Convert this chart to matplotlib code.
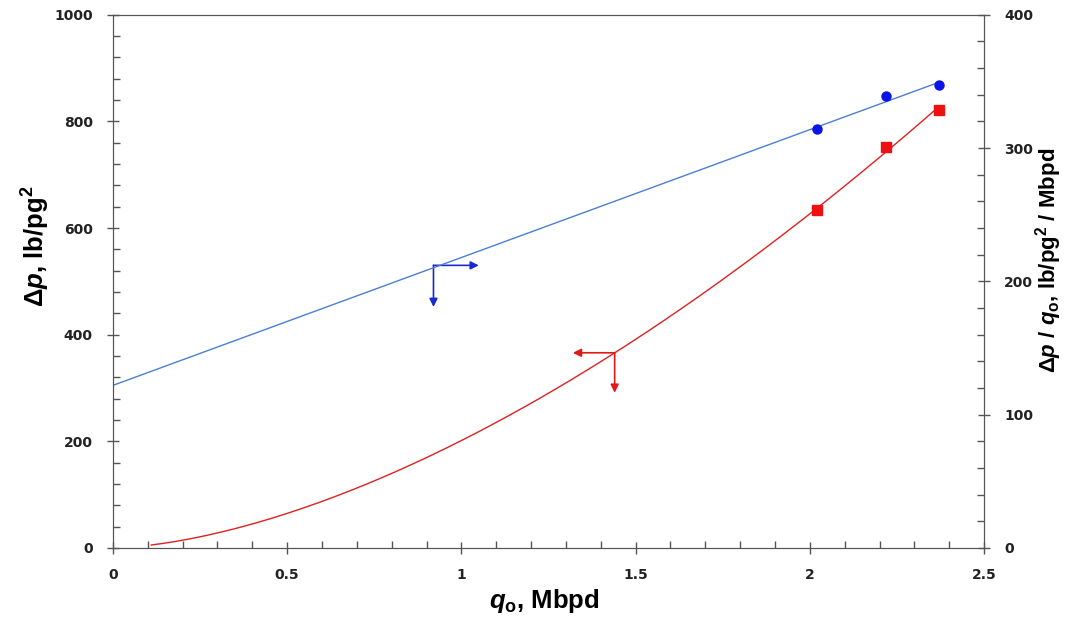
import numpy as np
import matplotlib.pyplot as plt
from matplotlib.ticker import MultipleLocator

plt.rcParams['mathtext.fontset'] = 'custom'
plt.rcParams['mathtext.rm'] = 'Liberation Sans:bold'
plt.rcParams['mathtext.it'] = 'Liberation Sans:italic:bold'
plt.rcParams['mathtext.bf'] = 'Liberation Sans:bold'

# measured points
q_o = [2.02, 2.22, 2.37]
dp = [634, 752, 822]            # left axis, lb/pg2
dp_q = [314, 339, 347]          # right axis, lb/pg2 / Mbpd

# arrows marking which axis each curve belongs to
blue_arrow = (0.92, 530, 1.05, 452)   # x0, y0 (left axis), x right end, y down end
red_arrow = (1.44, 366, 1.32, 291)

fig = plt.figure(figsize=(10.65, 6.17), dpi=100)
ax = fig.add_axes([0.106, 0.112, 0.818, 0.864])
ax2 = ax.twinx()

# trendlines: linear for dp/q, power law for dp
slope, icpt = np.polyfit(q_o, dp_q, 1)
n, lnc = np.polyfit(np.log(q_o), np.log(dp), 1)
ql = np.linspace(0, max(q_o), 100)
qc = np.linspace(0.11, max(q_o), 200)
ax2.plot(ql, icpt + slope * ql, color='#4a7fd6', lw=1)
ax.plot(qc, np.exp(lnc) * qc ** n, color='#e02020', lw=1)

ax.plot(q_o, dp, 's', color='#ee1111', ms=7)
ax2.plot(q_o, dp_q, 'o', color='#0a14e6', ms=6.5)

# arrows
x0, y0, x1, y1 = blue_arrow
kw = dict(arrowstyle='-|>', mutation_scale=12, lw=1.2, shrinkA=0, shrinkB=0)
ax.annotate('', xy=(x1, y0), xytext=(x0, y0), arrowprops=dict(color='#1a2ad0', **kw))
ax.annotate('', xy=(x0, y1), xytext=(x0, y0), arrowprops=dict(color='#1a2ad0', **kw))
x0, y0, x1, y1 = red_arrow
ax.annotate('', xy=(x1, y0), xytext=(x0, y0), arrowprops=dict(color='#e01818', **kw))
ax.annotate('', xy=(x0, y1), xytext=(x0, y0), arrowprops=dict(color='#e01818', **kw))

ax.set_xlim(0, 2.5)
ax.set_ylim(0, 1000)
ax2.set_ylim(0, 400)
ax.xaxis.set_major_locator(MultipleLocator(0.5))
ax.xaxis.set_minor_locator(MultipleLocator(0.1))
ax.yaxis.set_major_locator(MultipleLocator(200))
ax.yaxis.set_minor_locator(MultipleLocator(40))
ax2.yaxis.set_major_locator(MultipleLocator(100))
ax2.yaxis.set_minor_locator(MultipleLocator(20))
ax.set_xticks([0, 0.5, 1, 1.5, 2, 2.5], ['0', '0.5', '1', '1.5', '2', '2.5'])

for a in (ax, ax2):
    a.tick_params(which='major', direction='inout', length=9, width=1, color='#555555',
                  labelsize=10, labelcolor='#222222', pad=10)
    a.tick_params(which='minor', direction='in', length=5, width=1, color='#555555')
    for s in a.spines.values():
        s.set_color('#555555')
for lab in ax.get_xticklabels() + ax.get_yticklabels() + ax2.get_yticklabels():
    lab.set_fontweight('bold')

lab_kw = dict(fontweight='bold', family='Liberation Sans')
ax.set_xlabel(r'$q_{\mathrm{o}}$, Mbpd', fontsize=18.5, **lab_kw)
ax.set_ylabel(r'$\Delta p$, lb/pg$^2$', fontsize=18.5, **lab_kw)
ax2.set_ylabel(r'$\Delta p$ / $q_{\mathrm{o}}$, lb/pg$^2$ / Mbpd', rotation=90,
               fontsize=16, **lab_kw)
ax.xaxis.set_label_coords(0.495, -0.074)
ax.yaxis.set_label_coords(-0.07, 0.565)
ax2.yaxis.set_label_coords(1.056, 0.54)

fig.savefig('out.png', dpi=100)
